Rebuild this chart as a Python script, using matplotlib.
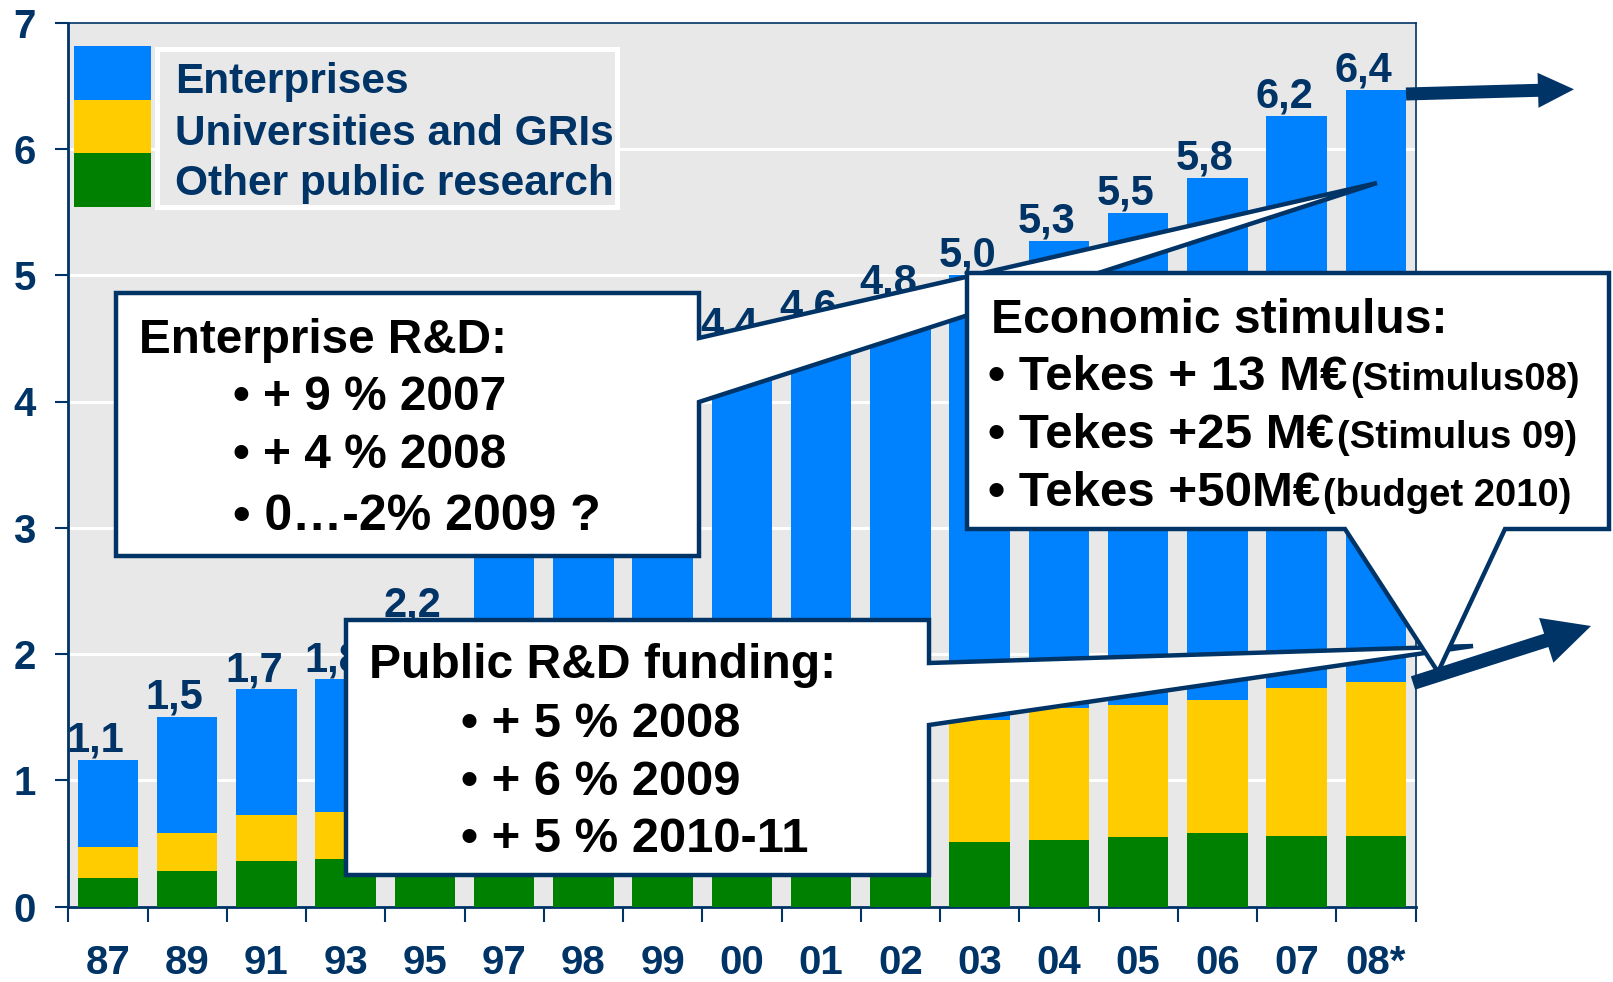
import matplotlib
matplotlib.use("Agg")
import matplotlib.pyplot as plt
import matplotlib.transforms as mtransforms
from matplotlib.patches import Rectangle, Polygon, FancyArrow
import numpy as np

# ---------------- data ----------------
years = ["87", "89", "91", "93", "95", "97", "98", "99", "00", "01", "02",
         "03", "04", "05", "06", "07", "08*"]
other_public = [0.23, 0.28, 0.36, 0.38, 0.40, 0.42, 0.44, 0.45, 0.46, 0.47, 0.48,
                0.51, 0.53, 0.55, 0.58, 0.56, 0.56]
universities = [0.24, 0.30, 0.37, 0.37, 0.42, 0.51, 0.58, 0.65, 0.72, 0.80, 0.89,
                0.97, 1.04, 1.05, 1.06, 1.17, 1.22]
enterprises = [0.69, 0.92, 0.99, 1.05, 1.41, 1.97, 2.28, 2.80, 3.27, 3.32, 3.42,
               3.52, 3.70, 3.89, 4.13, 4.53, 4.69]
total_labels = ["1,1", "1,5", "1,7", "1,8", "2,2", "2,9", "3,3", "3,9", "4,4", "4,6",
                "4,8", "5,0", "5,3", "5,5", "5,8", "6,2", "6,4"]
series_names = ["Enterprises", "Universities and GRIs", "Other public research"]

NAVY = "#003366"
BLUE = "#0082FF"
YELLOW = "#FFCC00"
GREEN = "#008000"
BG = "#E8E8E8"

plt.rcParams['font.family'] = ['Liberation Sans', 'DejaVu Sans']
plt.rcParams['font.weight'] = 'bold'

W, H = 1613, 982
fig = plt.figure(figsize=(W / 100, H / 100), dpi=100)
px = mtransforms.Affine2D().scale(1 / W, -1 / H).translate(0, 1) + fig.transFigure

ax = fig.add_axes([68.3 / W, 1 - 906.7 / H, (1415.5 - 68.3) / W, (906.7 - 22.6) / H])
ax.set_facecolor(BG)

x = np.arange(len(years))
op = np.array(other_public)
un = np.array(universities)
en = np.array(enterprises)
bw = 0.765
ax.bar(x, op, bw, color=GREEN, zorder=3)
ax.bar(x, un, bw, bottom=op, color=YELLOW, zorder=3)
ax.bar(x, en, bw, bottom=op + un, color=BLUE, zorder=3)
tot = op + un + en
for i, lab in enumerate(total_labels):
    ax.annotate(lab, xy=(x[i], tot[i]), xytext=(-9, 6), textcoords='offset points',
                ha='center', va='baseline', fontsize=30, fontweight='bold',
                color=NAVY, zorder=4)

ax.set_xlim(-0.5, len(years) - 0.5)
ax.set_ylim(0, 7)
ax.set_yticks(range(8))
ax.set_yticklabels([str(v) for v in range(8)], fontsize=29, fontweight='bold', color=NAVY)
for v in range(1, 7):
    ax.axhline(v, color='white', lw=2.2, zorder=1)

ax.set_xticks(np.arange(-0.5, len(years), 1.0))
ax.set_xticklabels([])
ax.set_xticks(x, minor=True)
ax.set_xticklabels(years, minor=True, fontsize=29, fontweight='bold', color=NAVY)
ax.tick_params(axis='x', which='major', direction='out', length=11, width=1.5, color=NAVY)
ax.tick_params(axis='x', which='minor', length=0, pad=27)
ax.tick_params(axis='y', direction='out', length=9.5, width=1.5, color=NAVY, pad=14)

for s in ['left', 'bottom']:
    ax.spines[s].set_color(NAVY)
    ax.spines[s].set_linewidth(2)
for s in ['top', 'right']:
    ax.spines[s].set_color(NAVY)
    ax.spines[s].set_linewidth(1.2)

# ---------------- legend ----------------
legend_colors = [BLUE, YELLOW, GREEN]
for k, c in enumerate(legend_colors):
    fig.add_artist(Rectangle((74, 46 + 53.5 * k), 77, 53.5, transform=px,
                             facecolor=c, edgecolor='none', zorder=5))
fig.add_artist(Rectangle((156.5, 49), 460.5, 158.5, transform=px, facecolor=BG,
                         edgecolor='white', lw=3.6, zorder=5))
for k, (name, yb) in enumerate(zip(series_names, [93, 145, 195])):
    fig.text(175, yb, name, transform=px, fontsize=30.5, fontweight='bold', color=NAVY,
             ha='left', va='baseline', zorder=6)

# ---------------- callouts ----------------
ent_poly = [(116, 293), (699, 293), (699, 338), (1377, 183), (699, 402), (699, 556), (116, 556)]
pub_poly = [(346, 620), (929, 620), (929, 663), (1473, 646), (929, 725), (929, 875), (346, 875)]
eco_poly = [(967, 273), (1609, 273), (1609, 529), (1505, 529), (1438, 672), (1345, 529), (967, 529)]
for poly, z in [(ent_poly, 7), (pub_poly, 8), (eco_poly, 9)]:
    fig.add_artist(Polygon(poly, closed=True, transform=px, facecolor='white',
                           edgecolor=NAVY, lw=3.2, joinstyle='miter', zorder=z))


def put(xp, yp, s, size, z, color='black'):
    return fig.text(xp, yp, s, transform=px, fontsize=size, fontweight='bold', color=color,
                    ha='left', va='baseline', zorder=z)


put(139, 352.7, "Enterprise R&D:", 34.3, 7.5)
put(233, 410, "• + 9 % 2007", 34.5, 7.5)
put(233, 468, "• + 4 % 2008", 34.5, 7.5)
put(233, 530, "• 0…-2% 2009 ?", 36, 7.5)

put(369, 678, "Public R&D funding:", 34.6, 8.5)
put(461, 736.7, "• + 5 % 2008", 35.2, 8.5)
put(461, 795, "• + 6 % 2009", 35.2, 8.5)
put(461, 851.7, "• + 5 % 2010-11", 35.2, 8.5)

put(991, 332.7, "Economic stimulus:", 34.6, 9.5)
renderer = fig.canvas.get_renderer()
eco_lines = [("• Tekes + 13 M€", "(Stimulus08)", 390),
             ("• Tekes +25 M€", "(Stimulus 09)", 448),
             ("• Tekes +50M€", "(budget 2010)", 506)]
for main, small, yb in eco_lines:
    t = put(988, yb, main, 35.5, 9.5)
    bb = t.get_window_extent(renderer)
    put(bb.x1 + 3, yb, small, 27.5, 9.5)

# ---------------- arrows ----------------
fig.add_artist(FancyArrow(1406, 94, 1574 - 1406, 89.3 - 94, width=13, head_width=35,
                          head_length=36, length_includes_head=True, transform=px,
                          facecolor=NAVY, edgecolor=NAVY, lw=0, zorder=10))
fig.add_artist(FancyArrow(1413, 683, 1591 - 1413, 626 - 683, width=14, head_width=47,
                          head_length=47, length_includes_head=True, transform=px,
                          facecolor=NAVY, edgecolor=NAVY, lw=0, zorder=10))

fig.savefig("out.png", dpi=100)
